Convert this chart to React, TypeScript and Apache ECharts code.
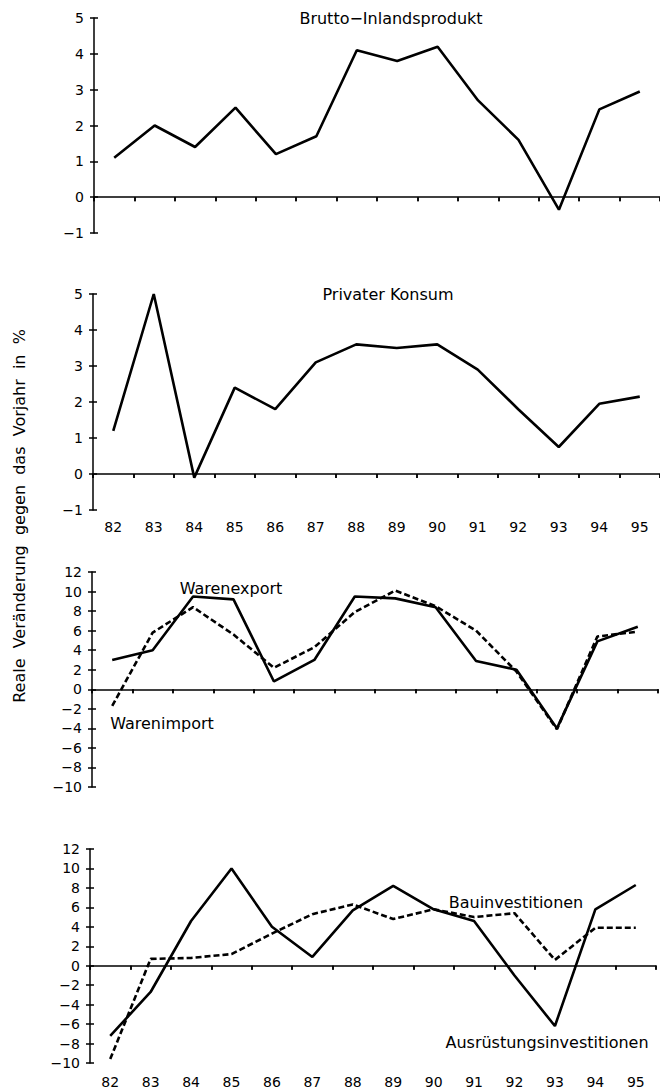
import React, { useEffect, useRef } from "react";
import * as echarts from "echarts";

const years = ["82", "83", "84", "85", "86", "87", "88", "89", "90", "91", "92", "93", "94", "95"];

const bruttoInlandsprodukt = [1.1, 2.0, 1.4, 2.5, 1.2, 1.7, 4.1, 3.8, 4.2, 2.7, 1.6, -0.35, 2.45, 2.95];
const privaterKonsum = [1.2, 5.0, -0.1, 2.4, 1.8, 3.1, 3.6, 3.5, 3.6, 2.9, 1.8, 0.75, 1.95, 2.15];
const warenexport = [3.0, 4.0, 9.5, 9.2, 0.8, 3.0, 9.5, 9.3, 8.4, 2.9, 2.0, -4.0, 4.9, 6.4];
const warenimport = [-1.7, 5.8, 8.4, 5.6, 2.2, 4.3, 7.9, 10.1, 8.5, 6.0, 1.8, -4.1, 5.4, 5.9];
const ausruestungsinvestitionen = [-7.2, -2.7, 4.6, 10.0, 4.0, 0.9, 5.7, 8.2, 5.8, 4.6, -1.0, -6.2, 5.8, 8.3];
const bauinvestitionen = [-9.6, 0.7, 0.8, 1.2, 3.3, 5.3, 6.3, 4.8, 5.8, 5.0, 5.4, 0.6, 3.9, 3.9];

const panelRanges = [
  { min: -1, max: 5, interval: 1 },
  { min: -1, max: 5, interval: 1 },
  { min: -10, max: 12, interval: 2 },
  { min: -10, max: 12, interval: 2 },
];

const FONT = "DejaVu Sans";

export default function App() {
  const ref = useRef<HTMLDivElement>(null);

  useEffect(() => {
    if (!ref.current) return;
    const chart = echarts.init(ref.current, null, { renderer: "svg" });

    const grids = [
      { left: 94, right: 0, top: 18, height: 215 },
      { left: 93, right: 0, top: 294, height: 216 },
      { left: 92, right: 2, top: 572, height: 215 },
      { left: 90, right: 4, top: 849, height: 214 },
    ];
    const showLabels = [false, true, false, true];
    const labelMargins = [10, 10, 10, 12];

    const xAxes: any[] = [];
    const yAxes: any[] = [];
    const fmt = (v: number) => String(v).replace("-", "\u2212");

    grids.forEach((g, i) => {
      const r = panelRanges[i];
      yAxes.push({
        type: "value",
        gridIndex: i,
        position: "left",
        min: r.min,
        max: r.max,
        interval: r.interval,
        axisLine: { show: true, lineStyle: { color: "#000", width: 1.5 } },
        axisTick: { show: true, length: 4, lineStyle: { color: "#000", width: 1.5 } },
        axisLabel: { show: true, margin: 10, color: "#000", fontFamily: FONT, fontSize: 14, formatter: fmt },
        splitLine: { show: false },
      });
      yAxes.push({
        type: "value",
        gridIndex: i,
        position: "left",
        min: r.min,
        max: r.max,
        interval: r.interval,
        axisLine: { show: false },
        axisTick: { show: true, inside: true, length: 4, lineStyle: { color: "#000", width: 1.5 } },
        axisLabel: { show: false },
        splitLine: { show: false },
      });
      xAxes.push({
        type: "category",
        gridIndex: i,
        data: years,
        axisLine: { show: true, onZero: true, onZeroAxisIndex: 2 * i, lineStyle: { color: "#000", width: 1.5 } },
        axisTick: { show: true, length: 4, lineStyle: { color: "#000", width: 1.5 } },
        axisLabel: { show: false },
        splitLine: { show: false },
      });
      xAxes.push({
        type: "category",
        gridIndex: i,
        data: years,
        axisLine: { show: false, onZero: true, onZeroAxisIndex: 2 * i },
        axisTick: { show: true, inside: true, length: 4, lineStyle: { color: "#000", width: 1.5 } },
        axisLabel: { show: false },
        splitLine: { show: false },
      });
      xAxes.push({
        type: "category",
        gridIndex: i,
        position: "bottom",
        data: years,
        axisLine: { show: false, onZero: false },
        axisTick: { show: false },
        axisLabel: {
          show: showLabels[i],
          margin: labelMargins[i],
          color: "#000",
          fontFamily: FONT,
          fontSize: 14,
        },
        splitLine: { show: false },
      });
    });

    const line = (panel: number, data: number[], dashed: boolean, name: string) => ({
      type: "line",
      name,
      xAxisIndex: 3 * panel,
      yAxisIndex: 2 * panel,
      data,
      symbol: "none",
      silent: true,
      lineStyle: { color: "#000", width: 2.6, type: dashed ? [6, 3] : "solid" },
    });

    const text = (t: string, x: number, y: number, size = 16, extra: any = {}) => ({
      type: "text",
      x,
      y,
      ...extra,
      style: {
        text: t,
        fill: "#000",
        font: `${size}px "${FONT}"`,
        align: "center",
        verticalAlign: "middle",
      },
    });

    chart.setOption({
      animation: false,
      backgroundColor: "#fff",
      grid: grids.map((g) => ({ ...g, containLabel: false })),
      xAxis: xAxes,
      yAxis: yAxes,
      series: [
        line(0, bruttoInlandsprodukt, false, "Brutto-Inlandsprodukt"),
        line(1, privaterKonsum, false, "Privater Konsum"),
        line(2, warenexport, false, "Warenexport"),
        line(2, warenimport, true, "Warenimport"),
        line(3, ausruestungsinvestitionen, false, "Ausrüstungsinvestitionen"),
        line(3, bauinvestitionen, true, "Bauinvestitionen"),
      ],
      graphic: [
        text("Brutto\u2212Inlandsprodukt", 391, 18),
        text("Privater Konsum", 388, 294),
        text("Warenexport", 231, 588),
        text("Warenimport", 162, 723),
        text("Bauinvestitionen", 516, 902),
        text("Ausrüstungsinvestitionen", 547, 1042),
        text("Reale  Veränderung  gegen  das  Vorjahr  in  %", 19, 516, 16, { rotation: Math.PI / 2 }),
      ],
    });

    return () => chart.dispose();
  }, []);

  return (
    <div
      ref={ref}
      style={{ position: "absolute", left: 0, top: 0, width: 660, height: 1091, background: "#fff" }}
    />
  );
}
